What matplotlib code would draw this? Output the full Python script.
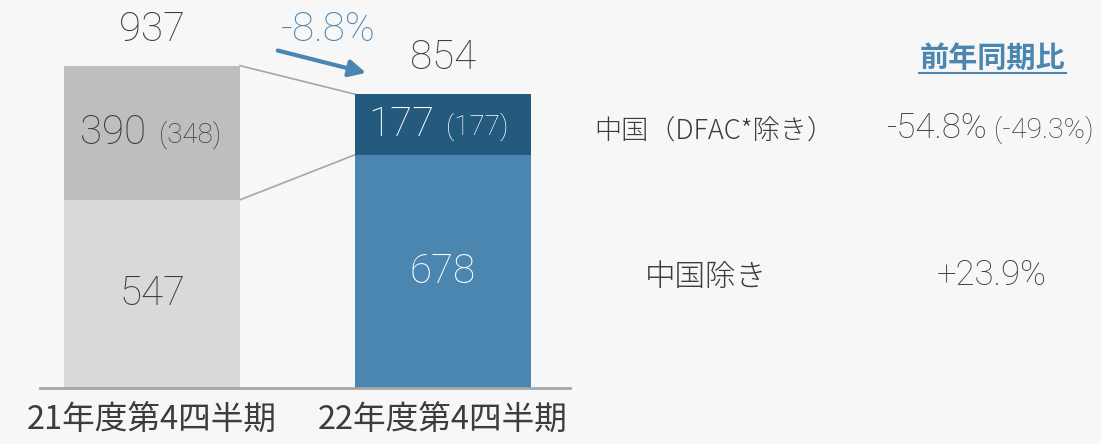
import matplotlib.pyplot as plt

plt.rcParams['font.family'] = ['Roboto', 'Noto Sans CJK JP', 'DejaVu Sans']

categories = ['21年度第4四半期', '22年度第4四半期']
china = [390, 177]
china_excl_dfac = [348, 177]
non_china = [547, 678]
totals = [937, 854]
change_label = '-8.8%'

yoy_title = '前年同期比'
row_labels = ['中国（DFAC*除き）', '中国除き']
yoy_main = ['-54.8%', '+23.9%']
yoy_sub = ['(-49.3%)', '']

bg = '#f7f7f7'
dark = '#3c3c3c'
blue = '#4a86b0'
navy = '#245a7e'
grey_top = '#bebebe'
grey_bot = '#d9d9d9'
line_col = '#a6a6a6'

W, H = 1101, 444
fig = plt.figure(figsize=(W / 100, H / 100), dpi=100, facecolor=bg)

# axes placed in pixels: x 40..570, baseline at y=388, 0.344 px per unit
px_unit = 0.344
ymax = 1100
base_y = 388
ax_h = ymax * px_unit
ax = fig.add_axes([40 / W, (H - base_y) / H, 530 / W, ax_h / H])
ax.set_facecolor(bg)

x0, x1 = 152, 443
ppx = x1 - x0
xs = [0, 1]
width = 176 / ppx
ax.set_xlim((40 - x0) / ppx, (570 - x0) / ppx)
ax.set_ylim(0, ymax)

ax.bar(xs, non_china, width=width, color=[grey_bot, blue], zorder=2)
ax.bar(xs, china, width=width, bottom=non_china, color=[grey_top, navy], zorder=2)

# connector lines between the bars
ax.plot([xs[0] + width / 2, xs[1] - width / 2], [totals[0], totals[1]],
        color=line_col, lw=1.2, zorder=1)
ax.plot([xs[0] + width / 2, xs[1] - width / 2], [non_china[0], non_china[1]],
        color=line_col, lw=1.2, zorder=1)

for s in ['top', 'right', 'left']:
    ax.spines[s].set_visible(False)
ax.spines['bottom'].set_color(line_col)
ax.spines['bottom'].set_linewidth(2)
ax.set_yticks([])
ax.set_xticks(xs)
ax.set_xticklabels(categories, fontsize=23.5, color=dark, fontweight='normal',
                   family=['Noto Sans CJK JP', 'DejaVu Sans'])
ax.tick_params(axis='x', length=0, pad=12)

num_font = dict(family=['Roboto', 'DejaVu Sans'], fontweight='light')
jp_font = dict(family=['Noto Sans CJK JP', 'DejaVu Sans'], fontweight='light')

# totals above bars
ax.text(xs[0], totals[0] + 105, str(totals[0]), ha='center', va='center',
        fontsize=29, color=dark, **num_font)
ax.text(xs[1], totals[1] + 105, str(totals[1]), ha='center', va='center',
        fontsize=29, color=dark, **num_font)

# segment labels (main value right of gap, value excl. DFAC in brackets)
main_right = [-6 / ppx, -9 / ppx]
sub_left = [7 / ppx, 3 / ppx]
for i, c in enumerate([dark, 'white']):
    ymid = non_china[i] + china[i] / 2
    ax.text(xs[i] + main_right[i], ymid, str(china[i]), ha='right', va='center',
            fontsize=29, color=c, **num_font)
    ax.text(xs[i] + sub_left[i], ymid - 6, '(%d)' % china_excl_dfac[i], ha='left',
            va='center', fontsize=20, color=c, **num_font)
    ax.text(xs[i], non_china[i] / 2, str(non_china[i]),
            ha='center', va='center', fontsize=29,
            color=c, **num_font)

# change arrow
ax.annotate('', xy=(0.745, 914), xytext=(0.423, 983),
            arrowprops=dict(arrowstyle='-|>,head_length=1.0,head_width=0.5',
                            color=blue, lw=3), annotation_clip=False)
ax.text(0.605, 1040, change_label, ha='center', va='center', fontsize=29,
        color=blue, **num_font)


def fx(px):
    return px / W


def fy(py):
    return 1 - py / H


# right-hand table
fig.text(fx(992), fy(58), yoy_title, ha='center', va='center', fontsize=21,
         color=blue, fontweight='bold',
         family=['Noto Sans CJK JP', 'DejaVu Sans'])
fig.add_artist(plt.Line2D([fx(919), fx(1066)], [fy(73), fy(73)], color=blue, lw=1.5))

fig.text(fx(594), fy(130), row_labels[0], ha='left', va='center', fontsize=19.5,
         color=dark, **jp_font)
fig.text(fx(706), fy(277), row_labels[1], ha='center', va='center', fontsize=22,
         color=dark, **jp_font)

fig.text(fx(988), fy(128), yoy_main[0], ha='right', va='center', fontsize=25,
         color=dark, **num_font)
fig.text(fx(994), fy(130), yoy_sub[0], ha='left', va='center', fontsize=20.5,
         color=dark, **num_font)
fig.text(fx(992), fy(275), yoy_main[1], ha='center', va='center', fontsize=25,
         color=dark, **num_font)

fig.savefig('out.png', dpi=100, facecolor=bg)
